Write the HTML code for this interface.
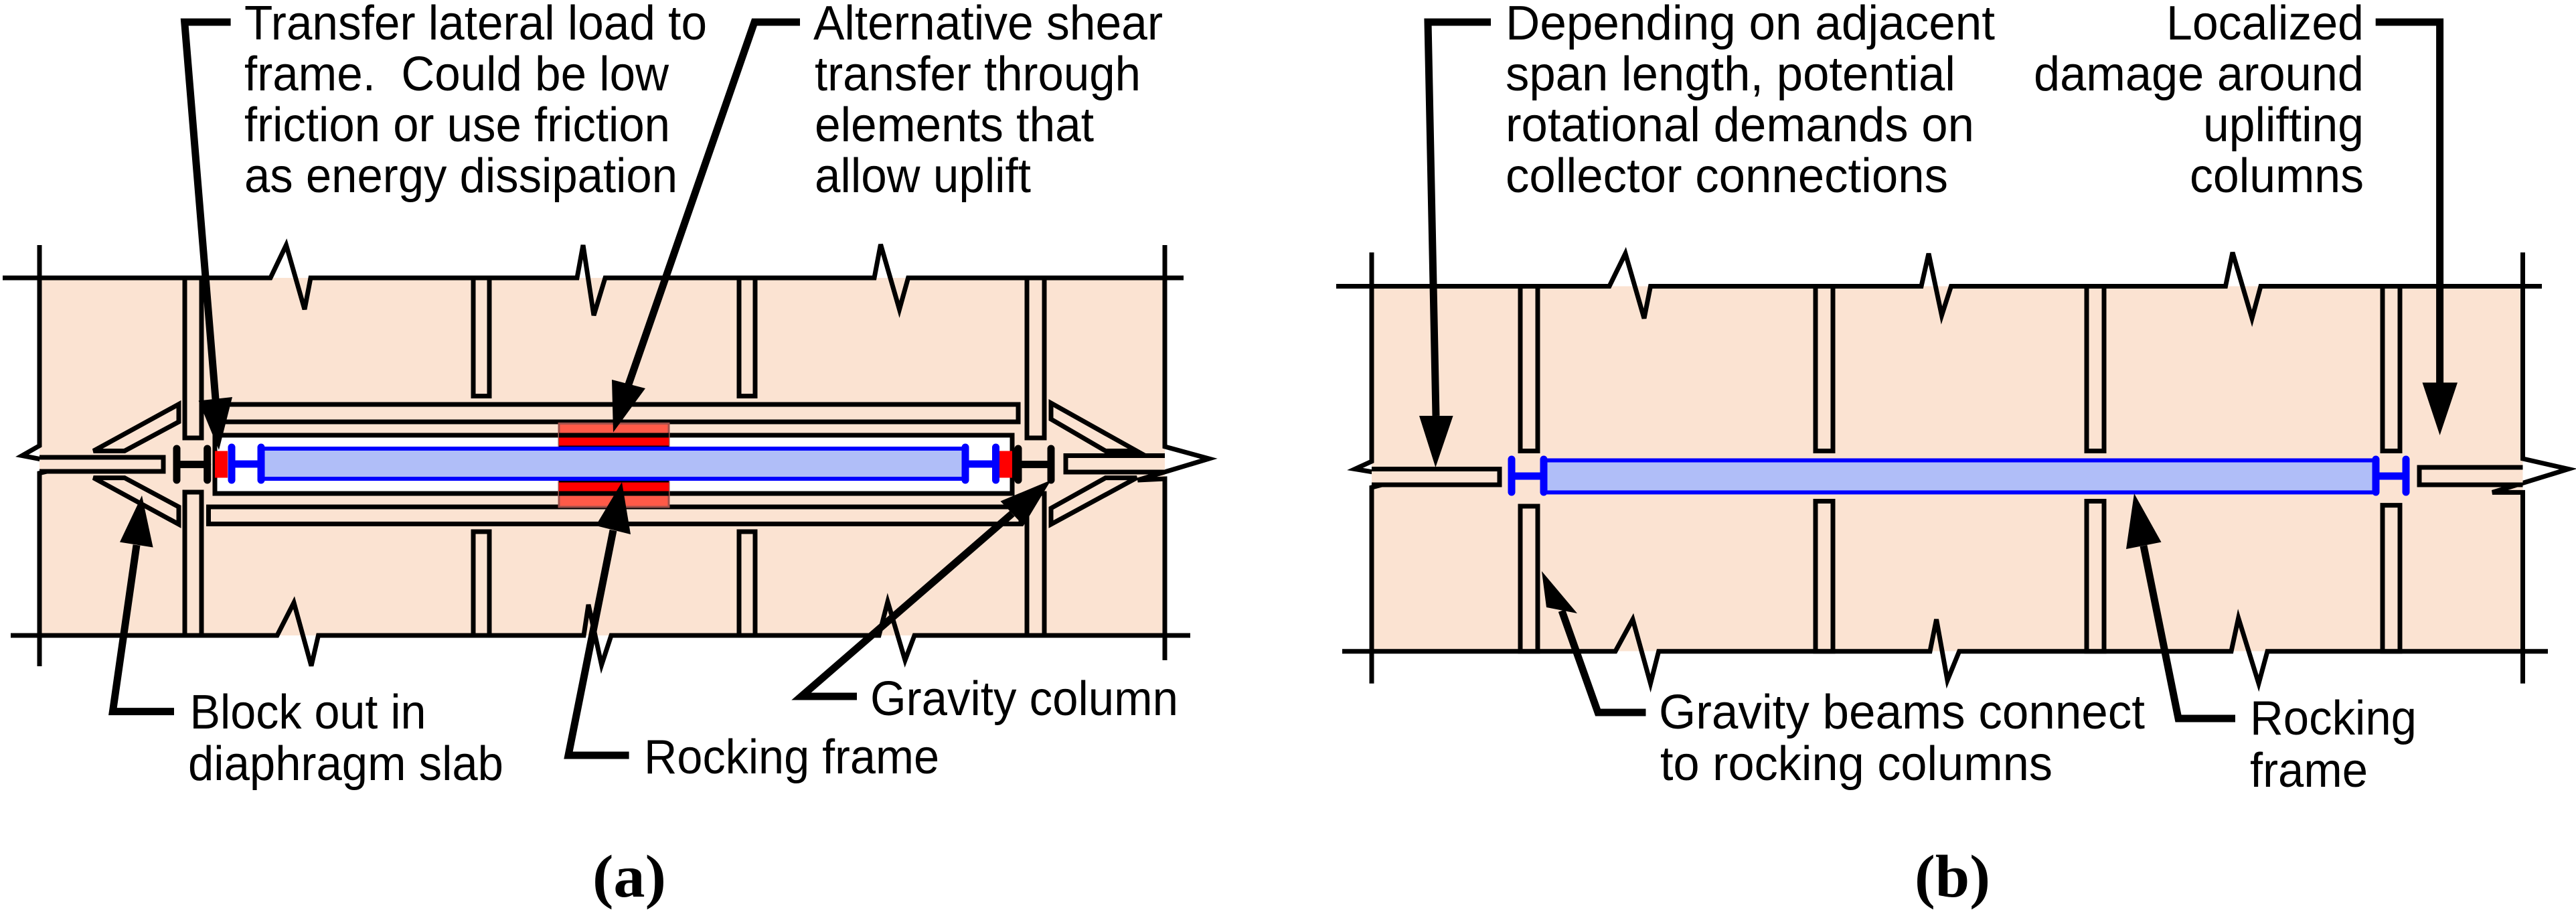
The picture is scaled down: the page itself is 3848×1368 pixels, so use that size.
<!DOCTYPE html>
<html><head><meta charset="utf-8"><style>
html,body{margin:0;padding:0;background:#fff}
svg{display:block}
text{font-family:"Liberation Sans",Arial,sans-serif;font-size:72px;fill:#000}
.lab{font-family:"Liberation Serif",serif;font-weight:bold;font-size:90px}
</style></head><body>
<svg width="3848" height="1368" viewBox="0 0 3848 1368" xmlns="http://www.w3.org/2000/svg">
<g stroke="#000" stroke-width="7" fill="none" stroke-linejoin="miter">
<!-- ========== PANEL A ========== -->
<rect x="59" y="415" width="1681" height="534" fill="#fbe3d2" stroke="none"/>
<polyline points="4,415 404,415 427.5,366 455,462 464,415 862,415 871,366 887,471 904,415 1306,415 1315.5,365 1343.5,462 1356.6,415 1768,415"/>
<polyline points="16,949 414,949 439,900 465,994.5 475.5,949 872,949 879,903 898.6,993 913,949 1313,949 1326,898.6 1352,986 1366,949 1778,949"/>
<polyline points="59,366 59,665.6 33,680.5 109,695 59,706.6 59,995"/>
<polyline points="1740,366 1740,667 1806,685 1699.5,717 1740,715 1740,986"/>
<path d="M59,683 H244 V704 H59" fill="#fbe3d2"/>
<path d="M1740,680.5 H1592 V705 H1740" fill="#fbe3d2"/>
<polygon points="139.6,673.5 267,603.7 267,630 186,673.5" fill="#fbe3d2"/>
<polygon points="139.6,713.6 186,713.6 267,757 267,783" fill="#fbe3d2"/>
<polygon points="1570,602 1570,626 1651.5,673.5 1698,673.5" fill="#fbe3d2"/>
<polygon points="1570,783 1570,759 1651.5,713.6 1698,713.6" fill="#fbe3d2"/>
<rect x="276" y="415" width="25" height="239" fill="#fbe3d2"/>
<rect x="707" y="415" width="24" height="176.5" fill="#fbe3d2"/>
<rect x="1104" y="415" width="24" height="176.5" fill="#fbe3d2"/>
<rect x="1534" y="415" width="26" height="239" fill="#fbe3d2"/>
<rect x="276" y="735" width="25" height="214" fill="#fbe3d2"/>
<rect x="707" y="794" width="24" height="155" fill="#fbe3d2"/>
<rect x="1104" y="794" width="24" height="155" fill="#fbe3d2"/>
<rect x="1534" y="737" width="26" height="212" fill="#fbe3d2"/>
<rect x="318" y="604" width="1203" height="26" fill="#fbe3d2"/>
<rect x="321" y="650" width="1191" height="87" fill="#fff"/>
<rect x="311.5" y="757" width="1213.5" height="25.5" fill="#fbe3d2"/>
</g>
<rect x="835" y="632.5" width="164" height="124.5" fill="#ff5a48" stroke="#a0504a" stroke-width="3"/>
<rect x="835" y="650" width="164" height="87" fill="#ff0000"/>
<g stroke="#000" stroke-width="7" fill="none">
<line x1="835" y1="650" x2="999" y2="650"/><line x1="835" y1="737" x2="999" y2="737"/>
<line x1="835" y1="669" x2="999" y2="669"/><line x1="835" y1="717" x2="999" y2="717"/>
</g>
<rect x="321" y="673.5" width="19" height="40" fill="#f00"/>
<rect x="1493" y="673.5" width="19" height="40" fill="#f00"/>
<g stroke="#000" stroke-width="11" stroke-linecap="round">
<line x1="264" y1="670" x2="264" y2="717"/><line x1="309.7" y1="670" x2="309.7" y2="717"/><line x1="264" y1="693.6" x2="309.7" y2="693.6"/>
<line x1="1521" y1="670" x2="1521" y2="717"/><line x1="1570" y1="670" x2="1570" y2="717"/><line x1="1521" y1="693.6" x2="1570" y2="693.6"/>
</g>
<rect x="390" y="670" width="1052" height="45" fill="#b0bef8" stroke="#0000ff" stroke-width="6"/>
<g stroke="#0000ff" stroke-width="11" stroke-linecap="round">
<line x1="346" y1="668" x2="346" y2="717"/><line x1="390" y1="668" x2="390" y2="717"/><line x1="346" y1="693" x2="390" y2="693"/>
<line x1="1442" y1="668" x2="1442" y2="717"/><line x1="1487.5" y1="668" x2="1487.5" y2="717"/><line x1="1442" y1="693" x2="1487.5" y2="693"/>
</g>

<!-- ========== PANEL B ========== -->
<g stroke="#000" stroke-width="7" fill="none">
<rect x="2049" y="427.5" width="1719.5" height="545" fill="#fbe3d2" stroke="none"/>
<polyline points="1996,427.5 2404,427.5 2428,378.6 2456,475.5 2465.5,427.5 2870,427.5 2881,378.6 2900.5,471 2914.5,427.5 3324.5,427.5 3335,377 3364,475.5 3377,427.5 3797,427.5"/>
<polyline points="2005,972.7 2413,972.7 2439,925 2465.5,1020.7 2477.7,972.7 2883,972.7 2892.6,925 2909,1016 2926.7,972.7 3333,972.7 3343.7,923 3374,1020.7 3387,972.7 3806,972.7"/>
<polyline points="2049,377 2049,689 2024,700.5 2103.5,713.6 2049,728 2049,1020.7"/>
<polyline points="3768.5,377 3768.5,685 3836.6,700.5 3723,735.4 3768.5,735.4 3768.5,1020.7"/>
<path d="M2049,700.5 H2240 V724 H2049" fill="#fbe3d2"/>
<path d="M3768.5,698 H3614 V724 H3768.5" fill="#fbe3d2"/>
<rect x="2271" y="427.5" width="26" height="246" fill="#fbe3d2"/>
<rect x="2712" y="427.5" width="26" height="246" fill="#fbe3d2"/>
<rect x="3117" y="427.5" width="26" height="246" fill="#fbe3d2"/>
<rect x="3559" y="427.5" width="26" height="246" fill="#fbe3d2"/>
<rect x="2271" y="756" width="26" height="216.7" fill="#fbe3d2"/>
<rect x="2712" y="748.5" width="26" height="224.2" fill="#fbe3d2"/>
<rect x="3117" y="748.5" width="26" height="224.2" fill="#fbe3d2"/>
<rect x="3559" y="754.6" width="26" height="218.1" fill="#fbe3d2"/>
</g>
<rect x="2306" y="687.5" width="1242.7" height="47.9" fill="#b0bef8" stroke="#0000ff" stroke-width="6"/>
<g stroke="#0000ff" stroke-width="11" stroke-linecap="round">
<line x1="2258" y1="686" x2="2258" y2="735"/><line x1="2306" y1="686" x2="2306" y2="735"/><line x1="2258" y1="711" x2="2306" y2="711"/>
<line x1="3549" y1="686" x2="3549" y2="735"/><line x1="3594" y1="686" x2="3594" y2="735"/><line x1="3549" y1="711" x2="3594" y2="711"/>
</g>

<!-- ========== LEADERS ========== -->
<g stroke="#000" stroke-width="11" fill="none" stroke-linejoin="miter">
<polyline points="344.6,33 275.7,33 322,596"/>
<polyline points="1195,33 1127,33 939,574"/>
<polyline points="260,1062.6 168.4,1062.6 204,814"/>
<polyline points="939.6,1128 849,1128 916,792"/>
<polyline points="1280,1040 1197,1040 1512,767"/>
<polyline points="2227,33 2133,33 2145,621"/>
<polyline points="3548.7,33 3644.6,33 3644.6,572"/>
<polyline points="2458.5,1064 2387,1064 2333,912"/>
<polyline points="3339,1073 3254,1073 3202,815"/>
</g>
<g fill="#000">
<polygon points="327,672 296.6,598.5 347,593"/>
<polygon points="916,645.6 914,567 964,580"/>
<polygon points="212,740 179,809.6 228.6,817.5"/>
<polygon points="929,720 890,785 942,798"/>
<polygon points="1570,717 1494.5,748.5 1529,785"/>
<polygon points="2144.4,698 2120,621 2170.6,621"/>
<polygon points="3644.6,650 3618.5,571.4 3671,571.4"/>
<polygon points="2303,853 2310,907 2356,916"/>
<polygon points="3188,737 3176,820 3228.5,809.6"/>
</g>

<!-- ========== TEXT ========== -->
<text x="365" y="59" textLength="691" lengthAdjust="spacingAndGlyphs">Transfer lateral load to</text>
<text x="365" y="135" textLength="634" lengthAdjust="spacingAndGlyphs">frame.&#160; Could be low</text>
<text x="365" y="211" textLength="636" lengthAdjust="spacingAndGlyphs">friction or use friction</text>
<text x="365" y="287" textLength="647" lengthAdjust="spacingAndGlyphs">as energy dissipation</text>
<text x="1215" y="59" textLength="522" lengthAdjust="spacingAndGlyphs">Alternative shear</text>
<text x="1217" y="135" textLength="487" lengthAdjust="spacingAndGlyphs">transfer through</text>
<text x="1217" y="211" textLength="417" lengthAdjust="spacingAndGlyphs">elements that</text>
<text x="1217" y="287" textLength="323" lengthAdjust="spacingAndGlyphs">allow uplift</text>
<text x="283.5" y="1088" textLength="353" lengthAdjust="spacingAndGlyphs">Block out in</text>
<text x="281" y="1165" textLength="471" lengthAdjust="spacingAndGlyphs">diaphragm slab</text>
<text x="962" y="1155" textLength="441" lengthAdjust="spacingAndGlyphs">Rocking frame</text>
<text x="1300" y="1068" textLength="460" lengthAdjust="spacingAndGlyphs">Gravity column</text>
<text class="lab" x="885" y="1339" textLength="110" lengthAdjust="spacingAndGlyphs">(a)</text>

<text x="2249" y="59" textLength="731" lengthAdjust="spacingAndGlyphs">Depending on adjacent</text>
<text x="2249" y="135" textLength="672" lengthAdjust="spacingAndGlyphs">span length, potential</text>
<text x="2249" y="211" textLength="700" lengthAdjust="spacingAndGlyphs">rotational demands on</text>
<text x="2249" y="287" textLength="661" lengthAdjust="spacingAndGlyphs">collector connections</text>
<text x="3236" y="59" textLength="295" lengthAdjust="spacingAndGlyphs">Localized</text>
<text x="3038" y="135" textLength="493" lengthAdjust="spacingAndGlyphs">damage around</text>
<text x="3291" y="211" textLength="240" lengthAdjust="spacingAndGlyphs">uplifting</text>
<text x="3271" y="287" textLength="260" lengthAdjust="spacingAndGlyphs">columns</text>
<text x="2478" y="1088" textLength="726" lengthAdjust="spacingAndGlyphs">Gravity beams connect</text>
<text x="2480" y="1165" textLength="586" lengthAdjust="spacingAndGlyphs">to rocking columns</text>
<text x="3361" y="1097" textLength="249" lengthAdjust="spacingAndGlyphs">Rocking</text>
<text x="3361" y="1175" textLength="176" lengthAdjust="spacingAndGlyphs">frame</text>
<text class="lab" x="2860" y="1339" textLength="113" lengthAdjust="spacingAndGlyphs">(b)</text>
</svg>
</body></html>
